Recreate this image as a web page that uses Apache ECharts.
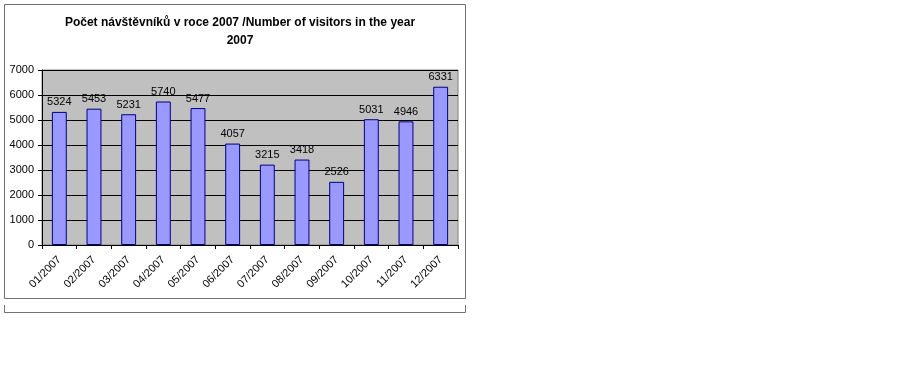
<!DOCTYPE html>
<html><head><meta charset="utf-8">
<script src="https://cdn.jsdelivr.net/npm/echarts@6/dist/echarts.min.js"></script>
<style>html,body{margin:0;padding:0;background:#fff}#c{width:900px;height:389px}</style>
</head><body><div id="c"></div>
<script>
const categories = ['01/2007','02/2007','03/2007','04/2007','05/2007','06/2007','07/2007','08/2007','09/2007','10/2007','11/2007','12/2007'];
const visitors = [5324, 5453, 5231, 5740, 5477, 4057, 3215, 3418, 2526, 5031, 4946, 6331];
const titleText = 'Počet návštěvníků v roce 2007 /Number of visitors in the year\n2007';

const chart = echarts.init(document.getElementById('c'), null, {renderer:'canvas'});
chart.setOption({
  animation: false,
  backgroundColor: '#fff',
  title: {
    text: titleText,
    left: 235, top: 9, textAlign: 'center',
    textStyle: {fontFamily: 'Liberation Sans, Arial', fontSize: 12, fontWeight: 'bold', color: '#000', lineHeight: 18}
  },
  graphic: [
    {type:'rect', shape:{x:4.5, y:4.5, width:461, height:294}, style:{fill:'none', stroke:'#707070', lineWidth:1}, z:-1},
    {type:'polyline', shape:{points:[[4.5,305],[4.5,312.5],[465.5,312.5],[465.5,305]]}, style:{fill:'none', stroke:'#707070', lineWidth:1}}
  ],
  grid: {left: 42, top: 70, width: 416, height: 175, show: true, backgroundColor: '#c0c0c0', borderColor: '#808080', borderWidth: 1},
  xAxis: {
    type: 'category', data: categories,
    axisLine: {lineStyle: {color: '#000'}},
    axisTick: {show: true, alignWithLabel: false, length: 4, lineStyle: {color: '#000'}},
    axisLabel: {rotate: 45, fontFamily: 'Liberation Sans, Arial', fontSize: 11, color: '#000', margin: 13}
  },
  yAxis: {
    type: 'value', min: 0, max: 7000, interval: 1000,
    axisLine: {show: true, lineStyle: {color: '#000'}},
    axisTick: {show: true, length: 4, lineStyle: {color: '#000'}},
    axisLabel: {fontFamily: 'Liberation Sans, Arial', fontSize: 11, color: '#000', margin: 8, formatter: v => String(v)},
    splitLine: {lineStyle: {color: '#000', width: 1}}
  },
  series: [{
    type: 'bar', data: visitors, barWidth: '43%',
    itemStyle: {color: '#9999ff', borderColor: '#000080', borderWidth: 1},
    label: {show: true, position: 'top', distance: 4, fontFamily: 'Liberation Sans, Arial', fontSize: 11, color: '#000'}
  }]
});
</script></body></html>
